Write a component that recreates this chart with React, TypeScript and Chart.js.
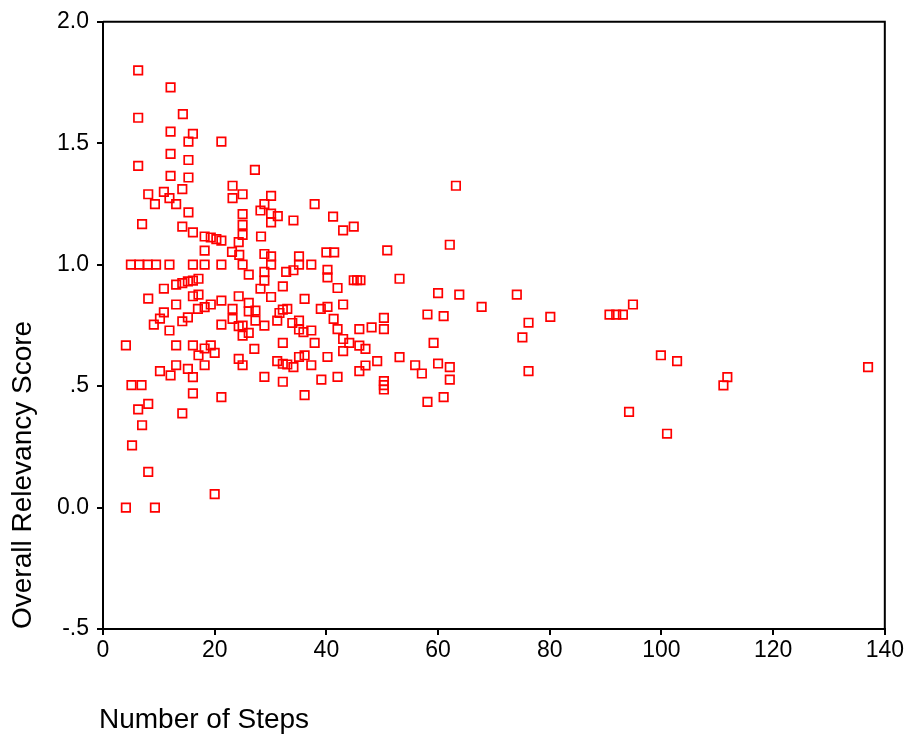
import React, { useEffect, useRef } from "react";
import { Chart, registerables } from "chart.js";

Chart.register(...registerables);

const xTitle = "Number of Steps";
const yTitle = "Overall Relevancy Score";

const xTickValues = [0, 20, 40, 60, 80, 100, 120, 140];
const yTickValues = [-0.5, 0, 0.5, 1.0, 1.5, 2.0];
const yTickLabels = ["-.5", "0.0", ".5", "1.0", "1.5", "2.0"];

const steps = [
  // left cluster
  6.3, 12.1, 14.3, 6.3, 12.1, 16.1, 15.3, 21.2, 12.1, 15.3, 6.3, 12.1, 15.3, 8.1, 10.9, 14.2, 11.9, 9.3, 13.1, 15.3,
  7.0, 14.2, 16.1, 18.2, 19.3, 20.3, 21.2, 18.2,
  5.0, 6.5, 8.0, 9.5, 11.9, 16.1, 18.2, 21.2,
  10.9, 13.1, 14.2, 15.2, 16.1, 17.1, 16.1, 17.1, 8.1, 13.1, 17.0, 18.2, 19.3, 21.2, 10.9, 10.2, 9.1, 15.2, 14.2, 11.9,
  21.2, 4.1, 13.1, 16.1, 18.2, 19.3, 20.0, 17.1, 18.2, 13.1, 10.2, 12.1, 15.2, 16.1, 5.1, 6.9, 16.1, 21.2, 8.1, 6.3,
  14.2, 7.0, 5.2, 8.1, 20.0, 4.1, 9.3,
  // middle cluster (upper)
  27.2, 23.2, 23.2, 25.0, 30.1, 28.9, 28.2, 30.1, 31.3, 30.1, 25.0, 25.0, 25.0, 34.1, 37.9, 41.2, 43.0, 44.9, 28.3, 24.3,
  23.1, 24.4, 25.0, 28.9, 30.1, 30.1, 28.9, 28.9, 26.1, 28.2, 32.2, 32.8, 34.1, 35.1, 35.1, 37.3, 40.0, 41.4, 40.2, 40.2,
  42.0, 44.9, 45.5, 46.1,
  // middle cluster (lower)
  24.3, 26.1, 30.1, 36.1, 43.0, 23.2, 23.2, 26.1, 27.3, 27.3, 32.2, 33.0, 31.6, 39.0, 40.2, 24.3, 25.0, 25.0, 26.1, 28.9,
  31.2, 33.9, 35.1, 35.1, 35.9, 37.3, 41.3, 42.0, 43.0, 44.1, 43.0, 37.9, 32.2, 27.1, 24.3, 25.0, 31.2, 32.2, 33.0, 34.1,
  35.1, 36.1, 37.3, 40.2, 28.9, 32.2, 39.1, 42.0, 36.1,
  // right side
  50.9, 62.1, 53.1, 60.0, 63.8, 67.8, 50.3, 58.1, 61.0, 63.2, 50.3, 45.9, 48.1, 45.9, 47.0, 49.1, 47.0, 45.9, 53.1, 55.9,
  57.1, 59.2, 60.0, 62.1, 62.1, 50.3, 50.3, 50.3, 58.1, 61.0, 74.1, 76.2, 75.1, 80.1, 90.7, 91.9, 93.1, 94.9, 76.2, 99.9,
  102.8, 111.8, 111.1, 94.2, 101.0, 137.0,
];

const scores = [
  // left cluster
  1.80, 1.73, 1.62, 1.605, 1.548, 1.539, 1.507, 1.507, 1.456, 1.431, 1.407, 1.366, 1.359, 1.29, 1.30, 1.311, 1.274, 1.249, 1.249, 1.215,
  1.167, 1.157, 1.133, 1.116, 1.112, 1.105, 1.099, 1.058,
  1.0, 1.0, 1.0, 1.0, 1.0, 1.0, 1.0, 1.0,
  0.901, 0.918, 0.924, 0.931, 0.934, 0.942, 0.870, 0.877, 0.860, 0.836, 0.818, 0.825, 0.836, 0.852, 0.804, 0.778, 0.753, 0.783, 0.767, 0.729,
  0.753, 0.668, 0.668, 0.668, 0.655, 0.668, 0.637, 0.627, 0.586, 0.586, 0.562, 0.544, 0.571, 0.537, 0.504, 0.504, 0.470, 0.455, 0.427, 0.404,
  0.388, 0.339, 0.256, 0.147, 0.055, 0.0, 0.0,
  // middle cluster (upper)
  1.39, 1.325, 1.274, 1.29, 1.283, 1.249, 1.223, 1.21, 1.20, 1.174, 1.208, 1.164, 1.123, 1.182, 1.249, 1.198, 1.141, 1.157, 1.116, 1.093,
  1.053, 1.040, 1.0, 1.044, 1.034, 1.0, 0.970, 0.934, 0.959, 0.901, 0.911, 0.970, 0.977, 1.034, 1.0, 1.0, 1.051, 1.051, 0.979, 0.948,
  0.904, 0.936, 0.936, 0.936,
  // middle cluster (lower)
  0.870, 0.843, 0.867, 0.859, 0.836, 0.818, 0.777, 0.808, 0.811, 0.770, 0.815, 0.818, 0.801, 0.818, 0.826, 0.747, 0.749, 0.708, 0.719, 0.749,
  0.770, 0.760, 0.770, 0.733, 0.722, 0.729, 0.777, 0.735, 0.694, 0.678, 0.644, 0.678, 0.678, 0.653, 0.612, 0.586, 0.603, 0.592, 0.589, 0.578,
  0.620, 0.627, 0.586, 0.620, 0.538, 0.518, 0.527, 0.538, 0.463,
  // right side
  1.059, 1.082, 0.942, 0.883, 0.877, 0.826, 0.781, 0.795, 0.788, 1.325, 0.735, 0.735, 0.742, 0.667, 0.653, 0.603, 0.585, 0.562, 0.619, 0.586,
  0.552, 0.678, 0.593, 0.578, 0.527, 0.521, 0.504, 0.486, 0.435, 0.455, 0.877, 0.761, 0.701, 0.785, 0.794, 0.794, 0.794, 0.836, 0.562, 0.627,
  0.603, 0.537, 0.503, 0.394, 0.304, 0.578,
];

const TITLE_FONT = '28px "Liberation Sans", Arial, sans-serif';
const TICK_FAMILY = '"Liberation Sans Narrow", "Liberation Sans", Arial, sans-serif';

const framePlugin = {
  id: "frameAndTitles",
  afterDraw(chart: any) {
    const { ctx, chartArea } = chart;
    const { left, top, right, bottom } = chartArea;
    ctx.save();
    ctx.strokeStyle = "#000";
    ctx.lineWidth = 2;
    ctx.beginPath();
    ctx.moveTo(left, top);
    ctx.lineTo(right, top);
    ctx.lineTo(right, bottom);
    ctx.stroke();

    ctx.fillStyle = "#000";
    ctx.font = TITLE_FONT;
    ctx.textAlign = "left";
    ctx.textBaseline = "alphabetic";
    ctx.fillText(xTitle, left - 4, 728);

    ctx.translate(31, bottom);
    ctx.rotate(-Math.PI / 2);
    ctx.fillText(yTitle, 0, 0);
    ctx.restore();
  },
};

export default function App() {
  const canvasRef = useRef<HTMLCanvasElement | null>(null);

  useEffect(() => {
    document.body.style.margin = "0";
    const canvas = canvasRef.current;
    if (!canvas) return;
    const data = steps.map((x, i) => ({ x, y: scores[i] }));
    const chart = new Chart(canvas, {
      type: "scatter",
      data: {
        datasets: [
          {
            data,
            pointStyle: "rect",
            radius: 6,
            hoverRadius: 6,
            borderWidth: 1.7,
            borderColor: "#ff0000",
            backgroundColor: "rgba(0,0,0,0)",
          },
        ],
      },
      options: {
        responsive: false,
        animation: false,
        devicePixelRatio: 1,
        layout: { padding: { left: 0, top: 20, right: 18, bottom: 0 } },
        plugins: {
          legend: { display: false },
          tooltip: { enabled: false },
        },
        events: [],
        scales: {
          x: {
            type: "linear",
            min: 0,
            max: 140,
            afterBuildTicks: (s: any) => {
              s.ticks = xTickValues.map((v) => ({ value: v }));
            },
            afterFit: (s: any) => {
              s.height = 111;
            },
            ticks: {
              color: "#000",
              padding: 2,
              font: { family: TICK_FAMILY, size: 23 },
              maxRotation: 0,
              callback: (v: any) => String(v),
            },
            grid: {
              drawOnChartArea: false,
              drawTicks: true,
              tickLength: 6,
              color: "#000",
              lineWidth: 2,
            },
            border: { color: "#000", width: 2 },
          },
          y: {
            type: "linear",
            min: -0.5,
            max: 2.0,
            afterBuildTicks: (s: any) => {
              s.ticks = yTickValues.map((v) => ({ value: v }));
            },
            afterFit: (s: any) => {
              s.width = 103;
            },
            ticks: {
              color: "#000",
              padding: 8,
              font: { family: TICK_FAMILY, size: 23 },
              callback: (v: any) => {
                const idx = yTickValues.findIndex((t) => Math.abs(t - Number(v)) < 1e-9);
                return idx >= 0 ? yTickLabels[idx] : "";
              },
            },
            grid: {
              drawOnChartArea: false,
              drawTicks: true,
              tickLength: 6,
              color: "#000",
              lineWidth: 2,
            },
            border: { color: "#000", width: 2 },
          },
        },
      },
      plugins: [framePlugin],
    } as any);
    return () => chart.destroy();
  }, []);

  return (
    <canvas
      ref={canvasRef}
      width={906}
      height={740}
      style={{ display: "block", width: 906, height: 740, background: "#fff" }}
    />
  );
}
